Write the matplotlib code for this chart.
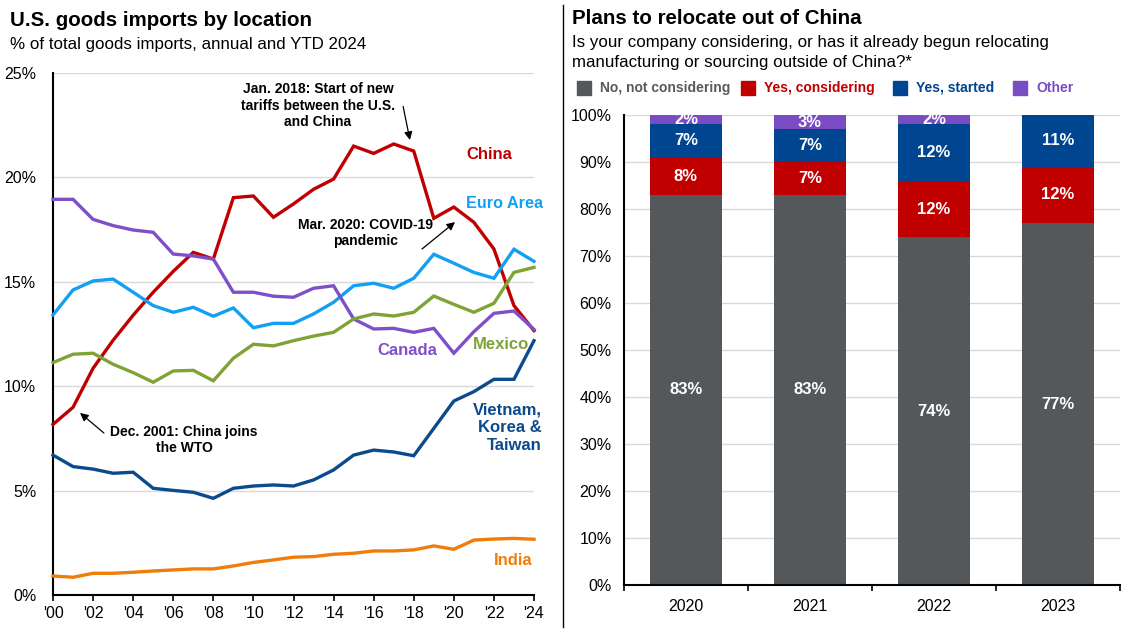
import matplotlib
matplotlib.use("Agg")
import matplotlib.pyplot as plt
import numpy as np

plt.rcParams['font.family'] = ['Liberation Sans', 'DejaVu Sans']

# ---------------- Left chart data ----------------
years = list(range(2000, 2025))
china = [8.17, 8.99, 10.86, 12.2, 13.4, 14.5, 15.5, 16.41, 16.09, 19.03, 19.11, 18.09, 18.73,
         19.43, 19.92, 21.5, 21.15, 21.6, 21.26, 18.04, 18.58, 17.85, 16.57, 13.86, 12.66]
euro = [13.41, 14.61, 15.04, 15.13, 14.5, 13.86, 13.54, 13.78, 13.35, 13.75, 12.8, 13.01, 13.01,
        13.46, 14.02, 14.81, 14.93, 14.69, 15.17, 16.32, 15.89, 15.45, 15.17, 16.56, 15.98]
canada = [18.95, 18.95, 17.99, 17.69, 17.48, 17.37, 16.33, 16.24, 16.09, 14.5, 14.5, 14.31, 14.26,
          14.69, 14.81, 13.22, 12.74, 12.77, 12.58, 12.77, 11.58, 12.61, 13.49, 13.6, 12.72]
mexico = [11.13, 11.53, 11.58, 11.05, 10.65, 10.19, 10.73, 10.76, 10.26, 11.34, 12.01, 11.93, 12.18,
          12.4, 12.58, 13.22, 13.46, 13.36, 13.54, 14.32, 13.92, 13.54, 13.97, 15.45, 15.69]
vkt = [6.7, 6.15, 6.03, 5.83, 5.88, 5.11, 5.01, 4.92, 4.63, 5.11, 5.22, 5.27, 5.22,
       5.51, 5.99, 6.7, 6.94, 6.85, 6.67, 7.98, 9.29, 9.74, 10.33, 10.33, 12.18]
india = [0.91, 0.85, 1.04, 1.04, 1.09, 1.15, 1.2, 1.25, 1.25, 1.39, 1.56, 1.68, 1.81,
         1.84, 1.95, 2.0, 2.11, 2.11, 2.16, 2.35, 2.19, 2.63, 2.68, 2.71, 2.67]
x_tick_labels = ["'00", "'02", "'04", "'06", "'08", "'10", "'12", "'14", "'16", "'18", "'20", "'22", "'24"]

# ---------------- Right chart data ----------------
survey_years = ["2020", "2021", "2022", "2023"]
no_considering = [83, 83, 74, 77]
yes_considering = [8, 7, 12, 12]
yes_started = [7, 7, 12, 11]
other = [2, 3, 2, 0]

C_CHINA = "#C00000"
C_EURO = "#12A1F2"
C_CANADA = "#7E4FC8"
C_MEXICO = "#7FA335"
C_VKT = "#0B4A8C"
C_INDIA = "#F07D0A"

C_GRAY = "#55585B"
C_RED = "#C00000"
C_BLUE = "#00458F"
C_PURP = "#7A4CC4"

fig = plt.figure(figsize=(11.34, 6.34), dpi=100)

arrow = dict(arrowstyle='-|>', color='black', lw=0.9, mutation_scale=12, shrinkA=0, shrinkB=0)

# ---------------- Left chart ----------------
axL = fig.add_axes([53/1134, 1-595/634, (534-53)/1134, (595-73)/634])
series = [(china, C_CHINA), (euro, C_EURO), (canada, C_CANADA), (mexico, C_MEXICO),
          (vkt, C_VKT), (india, C_INDIA)]
for vals, col in series:
    axL.plot(years, vals, color=col, lw=2.4, solid_joinstyle='miter', clip_on=False, zorder=3)
axL.set_xlim(2000, 2024)
axL.set_ylim(0, 25)
axL.set_yticks(np.arange(0, 26, 5))
axL.set_yticklabels([f"{v}%" for v in range(0, 26, 5)], fontsize=11.5)
axL.set_xticks(list(range(2000, 2025, 2)))
axL.set_xticklabels(x_tick_labels, fontsize=11.5)
axL.grid(axis='y', color='#D9D9D9', lw=1)
axL.set_axisbelow(True)
for s in ['top', 'right']:
    axL.spines[s].set_visible(False)
axL.spines['left'].set_linewidth(1.5)
axL.spines['bottom'].set_linewidth(1.5)
axL.tick_params(axis='y', length=0, pad=12)
axL.tick_params(axis='x', length=4, width=1.2, pad=4, direction='out')

lab_kw = dict(fontsize=12, fontweight='bold', ha='center', va='center')
axL.text(2021.76, 21.12, "China", color=C_CHINA, **lab_kw)
axL.text(2022.55, 18.77, "Euro Area", color=C_EURO, fontsize=11.7, fontweight='bold',
         ha='center', va='center')
axL.text(2017.66, 11.73, "Canada", color=C_CANADA, **lab_kw)
axL.text(2022.36, 12.02, "Mexico", color=C_MEXICO, **lab_kw)
axL.text(2024.4, 8.0, "Vietnam,\nKorea &\nTaiwan", color=C_VKT, fontsize=12, fontweight='bold',
         ha='right', va='center', linespacing=1.22)
axL.text(2022.95, 1.63, "India", color=C_INDIA, **lab_kw)

txt_kw = dict(fontsize=10, fontweight='bold', ha='center', va='center', linespacing=1.25)
axL.text(2013.22, 23.44, "Jan. 2018: Start of new\ntariffs between the U.S.\nand China", **txt_kw)
axL.annotate("", xy=(2017.81, 21.79), xytext=(2017.47, 23.4), arrowprops=arrow)
axL.text(2015.57, 17.34, "Mar. 2020: COVID-19\npandemic", **txt_kw)
axL.annotate("", xy=(2020.06, 17.86), xytext=(2018.41, 16.57), arrowprops=arrow)
axL.text(2006.54, 7.42, "Dec. 2001: China joins\nthe WTO", **txt_kw)
axL.annotate("", xy=(2001.35, 8.72), xytext=(2002.54, 7.76), arrowprops=arrow)

# ---------------- Right chart ----------------
axR = fig.add_axes([624/1134, 1-585/634, (1120-624)/1134, (585-115)/634])
xpos = np.arange(len(survey_years))
w = 0.58
b1 = np.array(no_considering, dtype=float)
b2 = b1 + np.array(yes_considering)
b3 = b2 + np.array(yes_started)
axR.bar(xpos, no_considering, w, color=C_GRAY, zorder=2)
axR.bar(xpos, yes_considering, w, bottom=b1, color=C_RED, zorder=2)
axR.bar(xpos, yes_started, w, bottom=b2, color=C_BLUE, zorder=2)
axR.bar(xpos, other, w, bottom=b3, color=C_PURP, zorder=2)
axR.set_xlim(-0.5, 3.5)
axR.set_ylim(0, 100)
axR.set_yticks(np.arange(0, 101, 10))
axR.set_yticklabels([f"{v}%" for v in range(0, 101, 10)], fontsize=11.5)
axR.set_xticks(xpos)
axR.set_xticklabels(survey_years, fontsize=11.5)
axR.set_xticks(np.arange(-0.5, 4, 1), minor=True)
axR.tick_params(axis='x', which='major', length=0, pad=10)
axR.tick_params(axis='x', which='minor', length=4, width=1.2, direction='out')
axR.tick_params(axis='y', length=0, pad=9)
axR.grid(axis='y', color='#D9D9D9', lw=1)
axR.set_axisbelow(True)
for s in ['top', 'right']:
    axR.spines[s].set_visible(False)
axR.spines['left'].set_linewidth(1.5)
axR.spines['bottom'].set_linewidth(1.5)

lbl = dict(color='white', fontsize=12, fontweight='bold', ha='center', va='center', zorder=3)
for i in range(len(survey_years)):
    axR.text(xpos[i], no_considering[i] / 2, f"{no_considering[i]}%", **lbl)
    axR.text(xpos[i], b1[i] + yes_considering[i] / 2, f"{yes_considering[i]}%", **lbl)
    axR.text(xpos[i], b2[i] + yes_started[i] / 2, f"{yes_started[i]}%", **lbl)
    if other[i] > 0:
        axR.text(xpos[i], b3[i] + other[i] / 2, f"{other[i]}%", **lbl)

# ---------------- Titles, legend, separator ----------------
fig.text(10/1134, 1-20/634, "U.S. goods imports by location", fontsize=14.8, fontweight='bold',
         ha='left', va='center')
fig.text(10/1134, 1-44/634, "% of total goods imports, annual and YTD 2024", fontsize=12.2,
         ha='left', va='center')
fig.text(572/1134, 1-18/634, "Plans to relocate out of China", fontsize=14.8, fontweight='bold',
         ha='left', va='center')
fig.text(572/1134, 1-42/634, "Is your company considering, or has it already begun relocating",
         fontsize=12.2, ha='left', va='center')
fig.text(572/1134, 1-63/634, "manufacturing or sourcing outside of China?*",
         fontsize=12.2, ha='left', va='center')

legend_items = [("No, not considering", C_GRAY, "#595959", 577),
                ("Yes, considering", C_RED, C_RED, 741),
                ("Yes, started", C_BLUE, C_BLUE, 893),
                ("Other", C_PURP, C_PURP, 1013)]
for text, fc, tc, px in legend_items:
    fig.patches.append(matplotlib.patches.Rectangle((px/1134, 1-95/634), 14/1134, 14/634,
                                                    transform=fig.transFigure, color=fc))
    fig.text((px + 23)/1134, 1-88/634, text, color=tc, fontsize=10, fontweight='bold',
             ha='left', va='center')

fig.add_artist(matplotlib.lines.Line2D([563/1134, 563/1134], [1-627/634, 1-5/634],
                                       transform=fig.transFigure, color='black', lw=1))

fig.savefig("out.png", dpi=100)
